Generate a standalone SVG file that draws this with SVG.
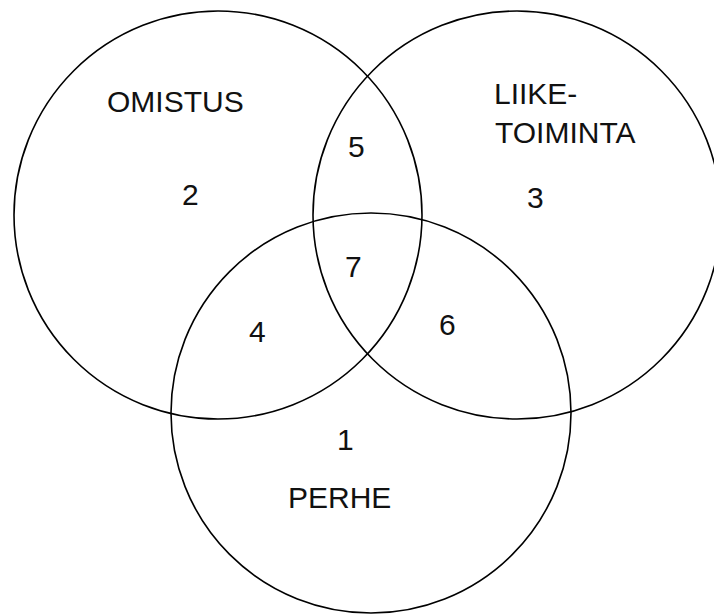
<svg xmlns="http://www.w3.org/2000/svg" width="714" height="614" viewBox="0 0 714 614">
<style>
.c{fill:none;stroke:#000;stroke-width:1.6}
.t{font-family:"Liberation Sans",Arial,sans-serif;font-size:30px;fill:#111}
</style>
<rect width="714" height="614" fill="#fff"/>
<g id="omistus">
<circle class="c" cx="218" cy="215" r="204"/>
<text class="t" x="107" y="112">OMISTUS</text>
<text class="t" x="182" y="205">2</text>
</g>
<g id="liiketoiminta">
<circle class="c" cx="517" cy="215" r="204"/>
<text class="t" x="494" y="104">LIIKE-</text>
<text class="t" x="495" y="143">TOIMINTA</text>
<text class="t" x="527" y="208">3</text>
</g>
<g id="perhe">
<circle class="c" cx="371" cy="413" r="200"/>
<text class="t" x="288" y="508">PERHE</text>
<text class="t" x="337" y="450">1</text>
</g>
<g id="overlaps">
<text class="t" x="348" y="157">5</text>
<text class="t" x="345" y="277">7</text>
<text class="t" x="249" y="342">4</text>
<text class="t" x="439" y="335">6</text>
</g>
<g id="connectors"></g>
</svg>
